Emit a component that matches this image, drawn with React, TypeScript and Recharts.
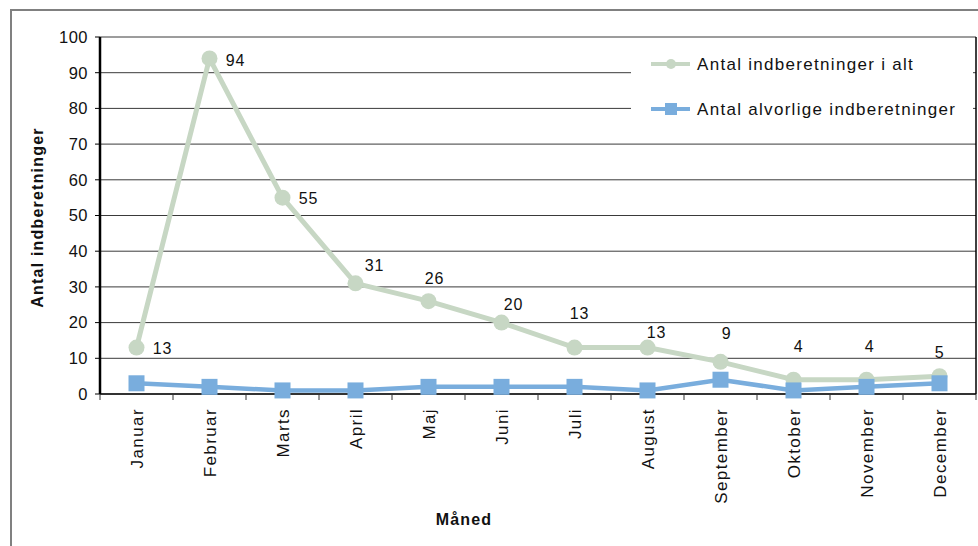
import React from "react";
import {
  LineChart,
  Line,
  XAxis,
  YAxis,
  CartesianGrid,
  Legend,
  LabelList,
  Label,
} from "recharts";

const months = [
  "Januar",
  "Februar",
  "Marts",
  "April",
  "Maj",
  "Juni",
  "Juli",
  "August",
  "September",
  "Oktober",
  "November",
  "December",
];
const totalReports = [13, 94, 55, 31, 26, 20, 13, 13, 9, 4, 4, 5];
const seriousReports = [3, 2, 1, 1, 2, 2, 2, 1, 4, 1, 2, 3];
const yTicks = [0, 10, 20, 30, 40, 50, 60, 70, 80, 90, 100];
const seriesNames = ["Antal indberetninger i alt", "Antal alvorlige indberetninger"];
const yTitle = "Antal indberetninger";
const xTitle = "Måned";

// hand-placed nudges for the value labels (dx, dy from the point)
const labelOffsets: [number, number][] = [
  [26, 1],
  [26, 2],
  [26, 1],
  [19, -18],
  [6, -23],
  [12, -18],
  [5, -34],
  [9, -15],
  [6, -28],
  [5, -33],
  [3, -33],
  [0, -24],
];

const data = months.map((month, i) => ({
  month,
  total: totalReports[i],
  serious: seriousReports[i],
}));

const FONT = "'Liberation Sans', Arial, Helvetica, sans-serif";
const GREEN = "#c7d7c4";
const BLUE = "#79addd";
const W = 978;
const H = 546;
const PLOT_LEFT = 100;
const PLOT_RIGHT = 976;
const BAND = (PLOT_RIGHT - PLOT_LEFT) / months.length;

const MonthTick = (props: any) => {
  const { x, y, payload, index } = props;
  const axisY = y - 8;
  const last = index === months.length - 1;
  return (
    <g>
      <line x1={x - BAND / 2} x2={x - BAND / 2} y1={axisY} y2={axisY + 6} stroke="#333" />
      {last && (
        <line x1={x + BAND / 2} x2={x + BAND / 2} y1={axisY} y2={axisY + 6} stroke="#333" />
      )}
      <text
        transform={`translate(${x + 1},${y + 6}) rotate(-90)`}
        textAnchor="end"
        dominantBaseline="central"
        fontSize={17}
        letterSpacing={1.4}
        fontFamily={FONT}
        fill="#111"
      >
        {payload.value}
      </text>
    </g>
  );
};

const ValueLabel = (props: any) => {
  const { x, y, value, index } = props;
  const [dx, dy] = labelOffsets[index] || [0, -20];
  return (
    <text
      x={x + dx}
      y={y + dy}
      textAnchor="middle"
      dominantBaseline="central"
      fontSize={16}
      letterSpacing={0.8}
      fontFamily={FONT}
      fill="#111"
    >
      {value}
    </text>
  );
};

const SquareDot = (props: any) => {
  const { cx, cy, index } = props;
  return <rect key={`sq-${index}`} x={cx - 8} y={cy - 8} width={16} height={16} fill={BLUE} />;
};

const YTitle = (props: any) => {
  const { viewBox } = props;
  const cx = 37;
  const cy = viewBox.y + viewBox.height / 2 + 2;
  return (
    <text
      transform={`translate(${cx},${cy}) rotate(-90)`}
      textAnchor="middle"
      dominantBaseline="central"
      fontSize={16}
      fontWeight="bold"
      letterSpacing={1.2}
      fontFamily={FONT}
      fill="#111"
    >
      {yTitle}
    </text>
  );
};

const XTitle = (props: any) => {
  const { viewBox } = props;
  return (
    <text
      x={464}
      y={viewBox.y + 125}
      textAnchor="middle"
      dominantBaseline="central"
      fontSize={16}
      fontWeight="bold"
      letterSpacing={1.2}
      fontFamily={FONT}
      fill="#111"
    >
      {xTitle}
    </text>
  );
};

const LegendBox = () => (
  <svg width={342} height={102} style={{ display: "block", background: "#fff" }}>
    <g>
      <line x1={20} x2={59} y1={24} y2={24} stroke={GREEN} strokeWidth={4} />
      <circle cx={40} cy={24} r={5} fill={GREEN} />
      <text x={66} y={24} dominantBaseline="central" fontSize={17} letterSpacing={1.3} fontFamily={FONT} fill="#111">
        {seriesNames[0]}
      </text>
    </g>
    <g>
      <line x1={20} x2={59} y1={69} y2={69} stroke={BLUE} strokeWidth={4} />
      <rect x={34} y={63} width={12} height={12} fill={BLUE} />
      <text x={66} y={69} dominantBaseline="central" fontSize={17} letterSpacing={1.3} fontFamily={FONT} fill="#111">
        {seriesNames[1]}
      </text>
    </g>
  </svg>
);

export default function App() {
  return (
    <div
      style={{
        position: "absolute",
        left: 0,
        top: 0,
        width: W,
        height: H,
        overflow: "hidden",
        background: "#fff",
        fontFamily: FONT,
      }}
    >
      <div
        style={{
          position: "absolute",
          left: 10,
          top: 9,
          width: 1000,
          height: 600,
          border: "2px solid #808080",
        }}
      />
      <div style={{ position: "absolute", left: 0, top: 0 }}>
        <LineChart width={W} height={H} data={data} margin={{ top: 37, right: 0, bottom: 0, left: 0 }}>
          <CartesianGrid vertical={false} stroke="#3a3a3a" strokeWidth={1} />
          <XAxis
            dataKey="month"
            interval={0}
            height={152}
            padding={{ left: BAND / 2, right: BAND / 2 }}
            tickSize={6}
            tickMargin={2}
            tickLine={false}
            axisLine={{ stroke: "#333", strokeWidth: 2 }}
            tick={<MonthTick />}
          >
            <Label content={<XTitle />} />
          </XAxis>
          <YAxis
            domain={[0, 100]}
            ticks={yTicks}
            width={PLOT_LEFT}
            tickSize={5}
            tickMargin={7}
            axisLine={{ stroke: "#000", strokeWidth: 2.5 }}
            tickLine={{ stroke: "#000" }}
            tick={{ fontSize: 16.5, fill: "#111", fontFamily: FONT, letterSpacing: 0.5 }}
          >
            <Label content={<YTitle />} />
          </YAxis>
          <YAxis
            yAxisId="frame"
            orientation="right"
            width={W - PLOT_RIGHT}
            domain={[0, 100]}
            tick={false}
            tickLine={false}
            axisLine={{ stroke: "#000", strokeWidth: 1.5 }}
          />
          <Legend
            layout="vertical"
            align="center"
            verticalAlign="middle"
            wrapperStyle={{ left: 631, top: 40, width: 342, height: 102 }}
            content={<LegendBox />}
          />
          <Line
            dataKey="total"
            name={seriesNames[0]}
            stroke={GREEN}
            strokeWidth={5}
            dot={{ r: 8, fill: GREEN, stroke: "none" }}
            activeDot={false}
            isAnimationActive={false}
          >
            <LabelList dataKey="total" content={<ValueLabel />} />
          </Line>
          <Line
            dataKey="serious"
            name={seriesNames[1]}
            stroke={BLUE}
            strokeWidth={4.5}
            dot={<SquareDot />}
            activeDot={false}
            isAnimationActive={false}
          />
        </LineChart>
      </div>
    </div>
  );
}
